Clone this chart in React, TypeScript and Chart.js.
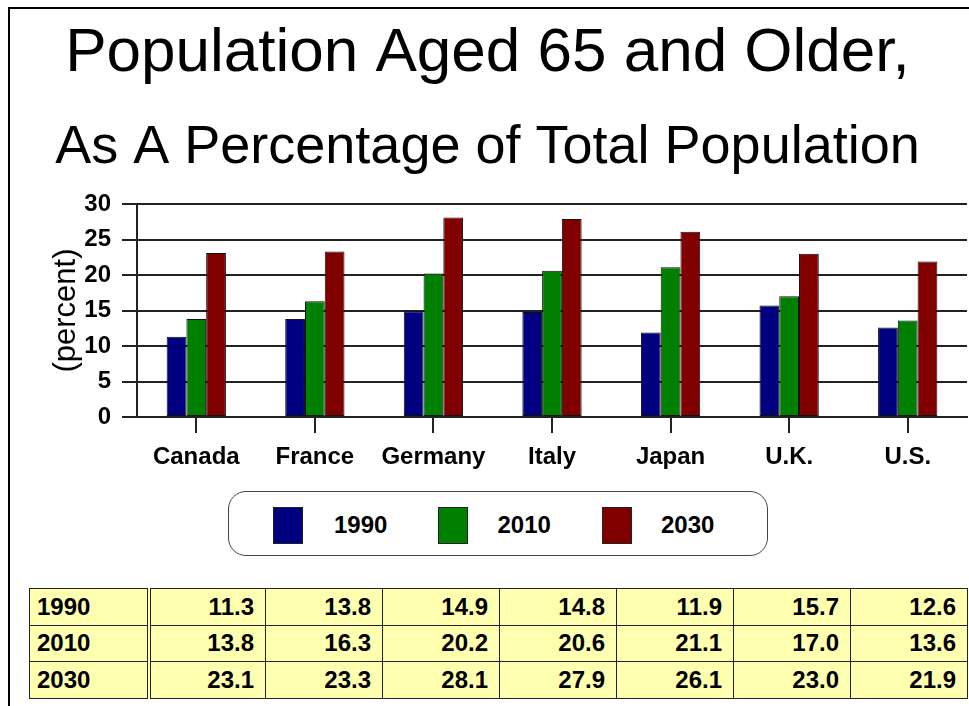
import React, { useEffect, useRef } from 'react';
import { Chart, registerables } from 'chart.js';

Chart.register(...registerables);

const FONT = "'Liberation Sans', Arial, sans-serif";

const categories = ['Canada', 'France', 'Germany', 'Italy', 'Japan', 'U.K.', 'U.S.'];
const seriesNames = ['1990', '2010', '2030'];
const values1990 = [11.3, 13.8, 14.9, 14.8, 11.9, 15.7, 12.6];
const values2010 = [13.8, 16.3, 20.2, 20.6, 21.1, 17.0, 13.6];
const values2030 = [23.1, 23.3, 28.1, 27.9, 26.1, 23.0, 21.9];
const seriesColors = ['#000080', '#008000', '#800000'];
const yMin = 0;
const yMax = 30;
const yStep = 5;
const titleLine1 = 'Population Aged 65 and Older,';
const titleLine2 = 'As A Percentage of Total Population';
const yAxisTitle = '(percent)';

const allSeries = [values1990, values2010, values2030];

export default function App() {
  const canvasRef = useRef<HTMLCanvasElement | null>(null);

  useEffect(() => {
    const canvas = canvasRef.current;
    if (!canvas) return;
    const chart = new Chart(canvas, {
      type: 'bar',
      data: {
        labels: categories,
        datasets: seriesNames.map((name, i) => ({
          label: name,
          data: allSeries[i],
          backgroundColor: seriesColors[i],
          borderColor: '#111',
          borderWidth: 1,
          borderSkipped: false,
          categoryPercentage: 0.5,
          barPercentage: 1.0,
        })),
      },
      options: {
        animation: false,
        responsive: false,
        maintainAspectRatio: false,
        devicePixelRatio: 1,
        layout: { padding: { top: 0, left: 0, right: 2, bottom: 5 } },
        plugins: {
          legend: { display: false },
          tooltip: { enabled: false },
          title: {
            display: true,
            text: titleLine1,
            color: '#000',
            font: { family: FONT, size: 62, weight: 'normal', lineHeight: 1 },
            padding: { top: 14.5, bottom: 0 },
          },
          subtitle: {
            display: true,
            text: titleLine2,
            color: '#000',
            font: { family: FONT, size: 54, weight: 'normal', lineHeight: 1 },
            padding: { top: 36.8, bottom: 28.7 },
          },
        },
        scales: {
          x: {
            grid: {
              drawOnChartArea: false,
              drawTicks: true,
              tickLength: 16,
              offset: false,
              color: '#222',
              lineWidth: 2,
            },
            border: { display: true, color: '#222', width: 2 },
            ticks: {
              color: '#000',
              font: { family: FONT, size: 24, weight: 'bold' },
              padding: 10,
              maxRotation: 0,
              autoSkip: false,
            },
            afterFit: (s: any) => {
              s.height = 56;
            },
          },
          y: {
            min: yMin,
            max: yMax,
            ticks: {
              stepSize: yStep,
              color: '#000',
              font: { family: FONT, size: 24, weight: 'bold' },
              padding: 11,
            },
            grid: { color: '#222', lineWidth: 2, tickLength: 15 },
            border: { display: true, color: '#222', width: 2 },
            title: {
              display: true,
              text: yAxisTitle,
              color: '#000',
              font: { family: FONT, size: 31, weight: 'normal', lineHeight: 1.2 },
              padding: { top: 39.4, bottom: 0 },
            },
            afterFit: (s: any) => {
              s.width = 129;
            },
          },
        },
      },
    } as any);
    return () => chart.destroy();
  }, []);

  const cellBorder = '1.5px solid #222';
  const cellFont: React.CSSProperties = {
    fontFamily: FONT,
    fontWeight: 'bold',
    fontSize: 24,
    color: '#000',
    lineHeight: '24px',
  };

  return (
    <div style={{ position: 'relative', width: 969, height: 706, overflow: 'hidden', background: '#fff' }}>
      <style>{`html, body { margin: 0; padding: 0; overflow: hidden; }`}</style>
      <div style={{ position: 'absolute', left: 8, top: 8, width: 961, height: 698 }}>
        <div
          style={{
            position: 'absolute',
            left: 0,
            top: -1,
            width: 2,
            height: 699,
            background: '#000',
          }}
        />
        <div
          style={{
            position: 'absolute',
            left: 0,
            top: -1,
            width: 961,
            height: 2,
            background: '#000',
          }}
        />
        <canvas
          ref={canvasRef}
          width={961}
          height={470}
          style={{ position: 'absolute', left: 0, top: 0, width: 961, height: 470 }}
        />
        {/* legend */}
        <div
          style={{
            position: 'absolute',
            left: 220,
            top: 483,
            width: 540,
            height: 65,
            border: '1.5px solid #444',
            borderRadius: 18,
            boxSizing: 'border-box',
            background: '#fff',
          }}
        >
          {seriesNames.map((name, i) => (
            <React.Fragment key={name}>
              <div
                style={{
                  position: 'absolute',
                  left: 44 + i * 164.5,
                  top: 15,
                  width: 30,
                  height: 37,
                  background: seriesColors[i],
                  border: '1px solid #222',
                  boxSizing: 'border-box',
                }}
              />
              <div
                style={{
                  position: 'absolute',
                  left: 105 + i * 163.5,
                  top: 21,
                  ...cellFont,
                }}
              >
                {name}
              </div>
            </React.Fragment>
          ))}
        </div>
        {/* data table */}
        <table
          style={{
            position: 'absolute',
            left: 21,
            top: 580,
            width: 938,
            height: 110,
            borderCollapse: 'collapse',
            tableLayout: 'fixed',
            background: '#FFFFB0',
          }}
        >
          <colgroup>
            <col style={{ width: 119 }} />
            {categories.map((c) => (
              <col key={c} style={{ width: 117 }} />
            ))}
          </colgroup>
          <tbody>
            {seriesNames.map((name, r) => (
              <tr key={name} style={{ height: 36.6 }}>
                <td
                  style={{
                    ...cellFont,
                    border: cellBorder,
                    borderRight: '4.5px double #222',
                    padding: '0 0 0 7px',
                    textAlign: 'left',
                    verticalAlign: 'middle',
                  }}
                >
                  {name}
                </td>
                {allSeries[r].map((v, c) => (
                  <td
                    key={c}
                    style={{
                      ...cellFont,
                      border: cellBorder,
                      padding: '0 11px 0 0',
                      textAlign: 'right',
                      verticalAlign: 'middle',
                    }}
                  >
                    {v.toFixed(1)}
                  </td>
                ))}
              </tr>
            ))}
          </tbody>
        </table>
      </div>
    </div>
  );
}
